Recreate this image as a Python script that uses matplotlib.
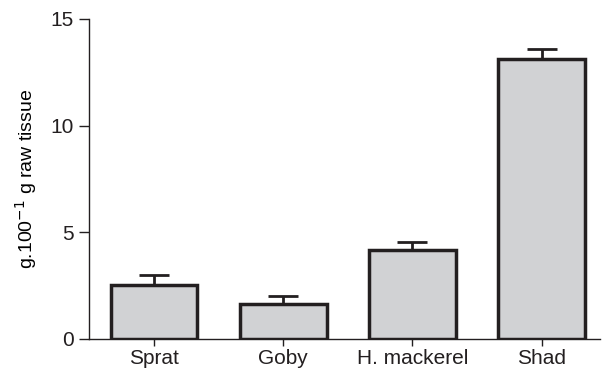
import matplotlib.pyplot as plt

plt.rcParams['font.family'] = ['Liberation Sans', 'DejaVu Sans']

categories = ['Sprat', 'Goby', 'H. mackerel', 'Shad']
values = [2.52, 1.63, 4.16, 13.1]
errors = [0.47, 0.37, 0.37, 0.5]

fig = plt.figure(figsize=(6.03, 3.72), dpi=100)
ax = fig.add_axes([0.148, 0.089, 0.847, 0.86])

x = range(len(categories))
ax.bar(x, values, width=0.67, color='#d1d2d4', edgecolor='#231f20', linewidth=2.5,
       yerr=[[0] * len(errors), errors], capsize=11,
       error_kw=dict(ecolor='#231f20', elinewidth=2, capthick=2))

ax.set_xlim(-0.5, 3.45)
ax.set_ylim(0, 15)
ax.set_yticks([0, 5, 10, 15])
ax.set_xticks(list(x))
ax.set_xticklabels(categories)
ax.set_ylabel('g.100$^{-1}$ g raw tissue', fontsize=14, labelpad=8)
ax.tick_params(colors='#231f20', width=1)
ax.tick_params(axis='y', labelsize=15, length=7, pad=4)
ax.tick_params(axis='x', labelsize=15, length=5, pad=2)
for s in ['top', 'right']:
    ax.spines[s].set_visible(False)
for s in ['left', 'bottom']:
    ax.spines[s].set_linewidth(1)
    ax.spines[s].set_color('#231f20')

fig.savefig('out.png', dpi=100)
